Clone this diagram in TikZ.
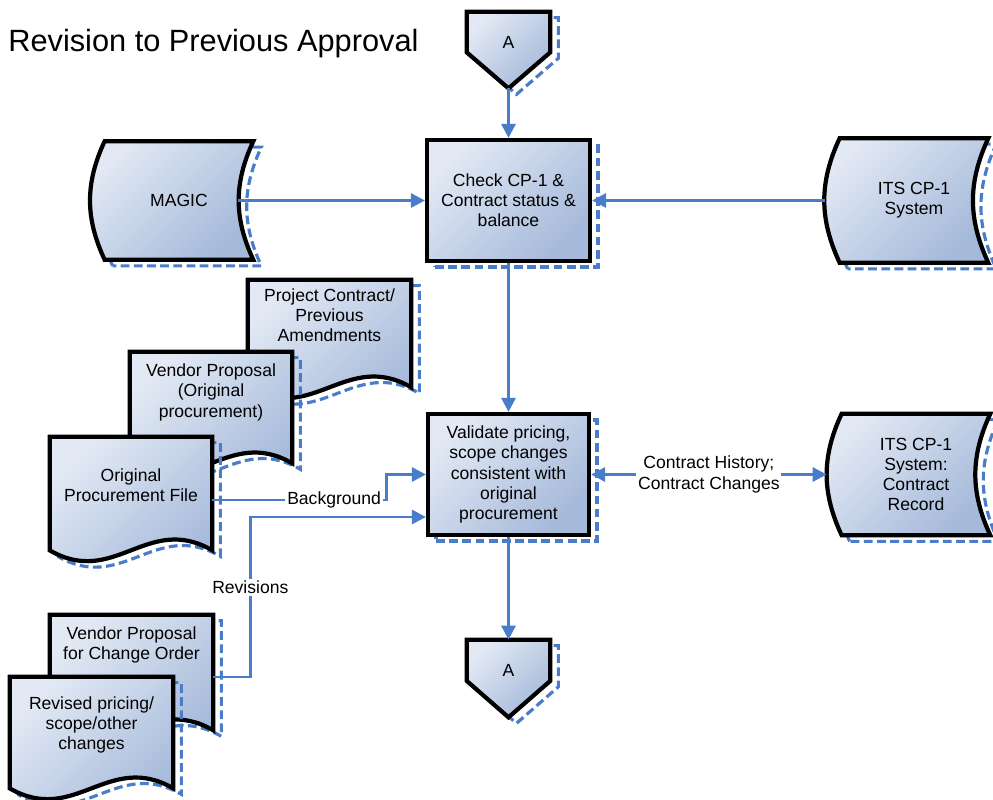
\documentclass[tikz,border=0pt]{standalone}
\usepackage{fontspec}
\setmainfont{Liberation Sans}
\usetikzlibrary{arrows.meta,calc,shadows,backgrounds}
\definecolor{flowblue}{HTML}{4A7DC9}
\definecolor{fillhi}{HTML}{E2E9F4}
\definecolor{filllo}{HTML}{A5B9DA}

\begin{document}
\begin{tikzpicture}[x=0.02cm, y=-0.02cm,
  font=\fontsize{10}{11.5}\selectfont,
  flowtip/.tip={Triangle[length=8pt, width=8pt]},
  shp/.style={draw=black, line width=2.4pt, top color=fillhi, bottom color=filllo, shading angle=45,
    general shadow={shadow xshift=0.16cm, shadow yshift=-0.12cm, draw=flowblue, line width=1.8pt,
      dash pattern=on 5pt off 2.5pt}},
  proc/.style={shp, rectangle, align=center, inner sep=2pt},
  hold/.style={rectangle, inner sep=0pt, align=center},
  doctext/.style={align=center, inner sep=0pt, anchor=north},
  flow/.style={draw=flowblue, line width=1.7pt, -flowtip},
  flow2/.style={flow, flowtip-flowtip},
  lbl/.style={fill=white, inner sep=1pt, align=center}]
 \useasboundingbox (0,0) rectangle (993,800);

 \node[anchor=base west, inner sep=0pt, font=\fontsize{17.5}{20}\selectfont] (title) at (8,52) {Revision to Previous Approval};

 \node[hold, minimum width=1.66cm, minimum height=1.52cm, label={[yshift=0.16cm]center:A}] (atop) at (508.5,50) {};
 \node[proc, minimum width=3.26cm, minimum height=2.42cm] (check) at (508.5,200.5) {Check CP-1 \&\\Contract status \&\\balance};
 \node[hold, minimum width=2.96cm, minimum height=2.36cm] (magic) at (179,200.5) {MAGIC};
 \node[hold, minimum width=2.96cm, minimum height=2.48cm] (itssys) at (914,200.5) {ITS CP-1\\System};
 \node[proc, minimum width=3.22cm, minimum height=2.42cm] (validate) at (508.5,474.5) {Validate pricing,\\scope changes\\consistent with\\original\\procurement};
 \node[hold, minimum width=2.96cm, minimum height=2.42cm] (itsrec) at (916,474.5) {ITS CP-1\\System:\\Contract\\Record};
 \node[hold, minimum width=1.66cm, minimum height=1.54cm, label={[yshift=0.16cm]center:A}] (abot) at (508.5,678.5) {};

 \node[hold, minimum width=3.26cm, minimum height=2.14cm,
   label={[doctext, yshift=-5pt]north:Project Contract/\\Previous\\Amendments}] (pcontract) at (329.5,333.5) {};
 \node[hold, minimum width=3.24cm, minimum height=2.22cm,
   label={[doctext, yshift=-6.8pt]north:Vendor Proposal\\(Original\\procurement)}] (vproposal) at (211,407.5) {};
 \node[hold, minimum width=3.24cm, minimum height=2.26cm,
   label={[doctext, yshift=-18pt]north:Original\\Procurement File}] (origfile) at (131,493.5) {};
 \node[hold, minimum width=3.26cm, minimum height=2.3cm,
   label={[doctext, yshift=-6.8pt]north:Vendor Proposal\\for Change Order}] (vchange) at (131.5,672.5) {};
 \node[hold, minimum width=3.26cm, minimum height=2.22cm,
   label={[doctext, yshift=-11pt]north:Revised pricing/\\scope/other\\changes}] (revised) at (91.5,732.5) {};

 \begin{scope}[on background layer]
  \foreach \n in {atop, abot}
   \path[shp] (\n.north west) -- (\n.north east) -- ($(\n.north east)!0.53!(\n.south east)$)
     -- (\n.south) -- ($(\n.north west)!0.53!(\n.south west)$) -- cycle;
  \foreach \n in {magic, itssys, itsrec}
   \path[shp] (\n.south west) to[bend left=25] (\n.north west) -- (\n.north east)
     to[bend right=25] (\n.south east) -- cycle;
  \foreach \n in {pcontract, vproposal, origfile, vchange, revised}
   \path[shp] (\n.south west) -- (\n.north west) -- (\n.north east) -- (\n.south east)
     .. controls ([xshift=-1.3cm, yshift=0.75cm]\n.south east) and ([xshift=1.3cm, yshift=-0.75cm]\n.south west) .. (\n.south west) -- cycle;
 \end{scope}

 \draw[flow] (atop.south) -- (check.north);
 \draw[flow] ([xshift=-0.3cm]magic.east) -- (check.west);
 \draw[flow] ([xshift=-0.3cm]itssys.west) -- (check.east);
 \draw[flow] (check.south) -- (validate.north);
 \draw[flow] (validate.south) -- (abot.north);
 \draw[flow] ([yshift=-0.13cm]origfile.east) -- node[lbl, pos=0.7] {Background} ++(174,0) |- (validate.west);
 \draw[flow] ([yshift=-0.09cm]vchange.east) -- ++(37,0) |- node[lbl, pos=0.28] {Revisions} ([yshift=-0.85cm]validate.west);
 \draw[flow2] (validate.east) -- node[lbl] {Contract History;\\Contract Changes} ([xshift=-0.3cm]itsrec.west);

\end{tikzpicture}
\end{document}
